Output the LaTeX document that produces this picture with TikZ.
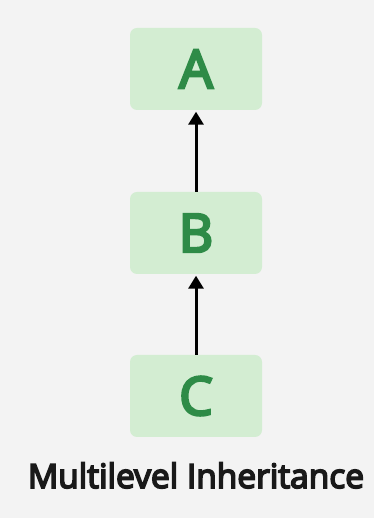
\documentclass[tikz,border=0pt]{standalone}
\usepackage{fontspec}
\setmainfont{Open Sans}
\newfontfamily\labelfont{Open Sans}[RawFeature={embolden=5}]
\usetikzlibrary{arrows.meta}
\definecolor{pagebg}{HTML}{F3F3F3}
\definecolor{boxfill}{HTML}{D3EDD2}
\definecolor{leafgreen}{HTML}{2E8B47}
\begin{document}
\begin{tikzpicture}[x=1pt,y=1pt,
  classbox/.style={rectangle, rounded corners=7pt, fill=boxfill,
    minimum width=132pt, minimum height=82pt, inner sep=0pt,
    text=leafgreen, font=\labelfont\fontsize{53}{53}\selectfont},
  inherits/.style={line width=3pt, draw=black,
    -{Triangle[length=13pt,width=15pt]}, shorten >=1.5pt}]
  \fill[pagebg] (0,0) rectangle (374,518);
  \useasboundingbox (0,0) rectangle (374,518);
  \node[classbox] (a) at (196,449) {A};
  \node[classbox] (b) at (196,285) {B};
  \node[classbox] (c) at (196,122) {C};
  \draw[inherits] (b.north) -- (a.south);
  \draw[inherits] (c.north) -- (b.south);
  \node[anchor=base, inner sep=0pt, font=\labelfont\fontsize{33.5}{34}\selectfont,
    text=black!90] (caption) at (196,30) {Multilevel Inheritance};
\end{tikzpicture}
\end{document}
